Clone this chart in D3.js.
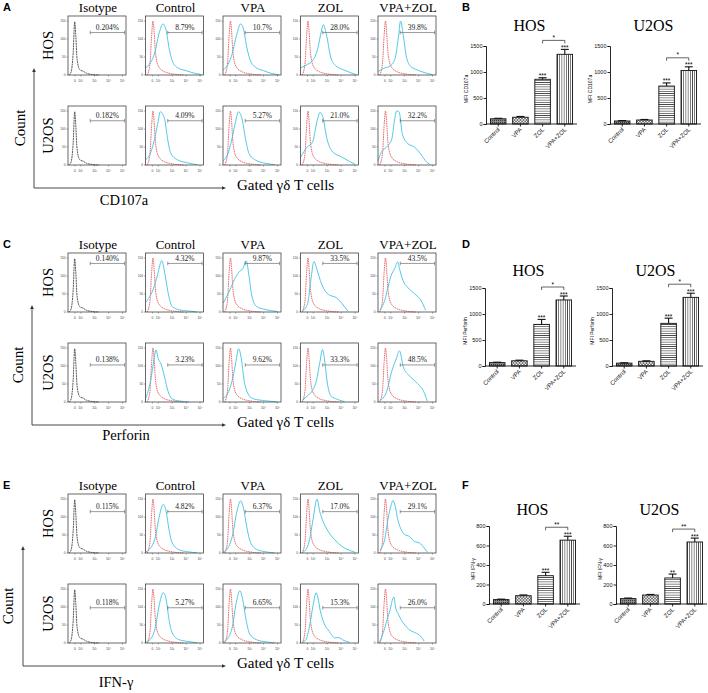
<!DOCTYPE html>
<html>
<head>
<meta charset="utf-8">
<script src="https://cdn.jsdelivr.net/npm/d3@7"></script>
<style>
body{margin:0;background:#fff;}
svg{display:block;font-family:"Liberation Serif","Times New Roman",serif;}
.sans{font-family:"Liberation Sans",Arial,sans-serif;}
</style>
</head>
<body>
<div id="chart-area"></div>
<script>
// ---------- data ----------
var columns=["Isotype","Control","VPA","ZOL","VPA+ZOL"];
var cellLines=["HOS","U2OS"];
var barGroups=["Control","VPA","ZOL","VPA+ZOL"];
var flowTickLabels=["0","10²","10³","10⁴","10⁵"];
var flowTickPos=[1.58,2,3,4,5];
var flowCountTicks=[0,50,100,150];

// isotype (black) and unstained reference (red) histograms, [log units, count]
var isotypeCurve=[[1.15,0],[1.3,8],[1.45,60],[1.56,148],[1.64,110],[1.73,45],[1.92,15],[2.2,10],[2.4,5],[2.9,1],[3.3,0]];
var refCurve=[[1.2,0],[1.4,30],[1.52,110],[1.62,150],[1.7,120],[1.78,70],[1.88,40],[2.08,20],[2.45,9],[2.9,4],[3.4,1],[3.8,0]];

// cyan histograms: Control, VPA, ZOL, VPA+ZOL
var cd107aCyanHOS=[
 [[1.1,20],[1.45,35],[1.75,62],[2.05,115],[2.35,142],[2.55,126],[2.8,70],[3.0,40],[3.4,20],[4.0,12],[4.6,5],[5.1,1]],
 [[1.1,15],[1.45,30],[1.75,60],[2.05,110],[2.35,142],[2.55,128],[2.8,75],[3.05,40],[3.4,22],[4.0,12],[4.6,4],[5.1,1]],
 [[1.1,20],[1.6,30],[1.95,40],[2.3,70],[2.6,125],[2.72,140],[2.93,115],[3.25,50],[3.6,26],[4.2,14],[4.7,6],[5.1,1]],
 [[1.1,10],[1.45,18],[1.95,25],[2.3,45],[2.55,105],[2.7,150],[2.9,110],[3.1,55],[3.4,25],[3.9,14],[4.4,7],[5.0,1]]
];
var cd107aCyanU2OS=[
 [[1.1,15],[1.4,30],[1.72,70],[1.96,116],[2.15,148],[2.44,130],[2.68,70],[2.9,32],[3.4,14],[4.1,6],[4.8,1]],
 [[1.1,12],[1.4,28],[1.72,72],[1.98,120],[2.2,148],[2.45,128],[2.7,72],[2.95,32],[3.4,14],[4.1,5],[4.8,1]],
 [[1.1,22],[1.56,50],[1.93,62],[2.29,125],[2.48,146],[2.65,138],[3.0,70],[3.38,37],[4.0,23],[4.6,10],[5.0,2]],
 [[1.1,12],[1.33,37],[1.7,50],[2.07,72],[2.27,125],[2.42,150],[2.52,150],[2.62,145],[2.82,88],[3.2,60],[3.7,50],[4.2,28],[4.55,9],[4.8,2]]
];
var perforinCyanHOS=[
 [[1.1,27],[1.62,62],[1.97,107],[2.15,135],[2.25,143],[2.35,132],[2.5,100],[2.75,45],[3.0,15],[3.5,6],[4.1,3],[4.8,0]],
 [[1.1,25],[1.5,55],[1.9,90],[2.25,112],[2.5,120],[2.75,142],[2.95,100],[3.15,45],[3.5,15],[4.0,8],[4.5,4],[5.0,1]],
 [[1.2,2],[1.59,23],[1.82,88],[2.05,140],[2.28,116],[2.5,88],[2.75,65],[3.2,46],[3.55,42],[3.9,31],[4.25,14],[4.5,2]],
 [[1.2,5],[1.56,32],[1.8,69],[2.03,102],[2.27,120],[2.5,139],[2.63,120],[2.87,88],[3.2,69],[3.7,51],[4.17,32],[4.5,5]]
];
var perforinCyanU2OS=[
 [[1.1,10],[1.45,60],[1.7,120],[1.83,145],[2.0,120],[2.2,105],[2.45,70],[2.7,30],[3.0,8],[3.5,3],[4.2,0]],
 [[1.1,10],[1.5,30],[1.8,70],[2.0,110],[2.2,148],[2.4,120],[2.6,60],[2.85,25],[3.2,10],[3.8,5],[4.5,2],[5.0,0]],
 [[1.2,4],[1.6,18],[1.85,27],[2.23,60],[2.48,112],[2.66,146],[2.8,120],[3.0,55],[3.25,18],[3.75,7],[4.25,1]],
 [[1.2,3],[1.69,28],[2.06,84],[2.41,122],[2.62,142],[2.92,95],[3.29,75],[3.9,52],[4.38,28],[4.62,3]]
];
var ifngCyanHOS=[
 [[1.1,3],[1.33,9],[1.8,46],[2.04,96],[2.36,135],[2.57,114],[2.77,65],[3.0,28],[3.5,9],[4.2,3],[4.8,0]],
 [[1.1,3],[1.4,12],[1.8,55],[2.05,110],[2.35,145],[2.55,125],[2.8,70],[3.05,30],[3.5,10],[4.2,3],[4.8,0]],
 [[1.2,2],[1.37,5],[1.73,37],[1.98,93],[2.27,150],[2.46,116],[2.7,88],[3.07,60],[3.54,37],[4.03,19],[4.5,9],[5.0,2]],
 [[1.2,8],[1.56,37],[1.79,93],[2.03,134],[2.15,146],[2.32,130],[2.5,93],[2.75,65],[3.0,51],[3.34,46],[3.7,32],[4.06,28],[4.4,14],[4.65,2]]
];
var ifngCyanU2OS=[
 [[1.1,3],[1.4,9],[1.8,46],[2.04,100],[2.36,140],[2.57,120],[2.77,65],[3.0,28],[3.5,9],[4.2,4],[4.8,0]],
 [[1.1,3],[1.4,12],[1.78,50],[2.0,105],[2.3,145],[2.5,120],[2.75,62],[3.0,25],[3.5,9],[4.2,3],[4.8,0]],
 [[1.2,2],[1.46,9],[1.73,46],[1.99,106],[2.2,140],[2.33,127],[2.5,90],[2.77,55],[3.16,32],[3.55,14],[3.8,15],[4.2,7],[4.6,2]],
 [[1.2,3],[1.54,38],[1.77,70],[1.95,92],[2.15,124],[2.22,128],[2.34,100],[2.57,78],[2.91,55],[3.37,36],[3.83,27],[4.17,18],[4.4,5]]
];

// gated percentages (Isotype, Control, VPA, ZOL, VPA+ZOL)
var cd107aPctHOS=["0.204%","8.79%","10.7%","28.0%","39.8%"];
var cd107aPctU2OS=["0.182%","4.09%","5.27%","21.0%","32.2%"];
var perforinPctHOS=["0.140%","4.32%","9.87%","33.5%","43.5%"];
var perforinPctU2OS=["0.138%","3.23%","9.62%","33.3%","48.5%"];
var ifngPctHOS=["0.115%","4.82%","6.37%","17.0%","29.1%"];
var ifngPctU2OS=["0.118%","5.27%","6.65%","15.3%","26.0%"];

// MFI bars (Control, VPA, ZOL, VPA+ZOL) and SEM
var cd107aHOS=[100,130,860,1340],  cd107aErrHOS=[10,15,30,95];
var cd107aU2OS=[58,77,730,1030],   cd107aErrU2OS=[8,10,60,70];
var perforinHOS=[65,100,800,1270], perforinErrHOS=[8,12,96,76];
var perforinU2OS=[55,90,820,1320], perforinErrU2OS=[8,10,100,80];
var ifngHOS=[45,85,290,655],       ifngErrHOS=[5,8,35,40];
var ifngU2OS=[55,92,267,636],      ifngErrU2OS=[6,6,40,40];

var starsHOS=["","","***","***"];
var starsIfngU2OS=["","","**","***"];
var mfiTicks1500=[0,500,1000,1500];
var mfiTicks800=[0,200,400,600,800];

// ---------- layout ----------
var svg=d3.select("#chart-area").append("svg").attr("width",708).attr("height",693);
var defs=svg.append("defs");

var pc=defs.append("pattern").attr("id","pCtrl").attr("patternUnits","userSpaceOnUse").attr("width",2).attr("height",2);
pc.append("rect").attr("width",2).attr("height",2).attr("fill","#8c8c8c");
pc.append("rect").attr("width",1).attr("height",1).attr("fill","#3a3a3a");
var pv=defs.append("pattern").attr("id","pVPA").attr("patternUnits","userSpaceOnUse").attr("width",3).attr("height",3);
pv.append("rect").attr("width",3).attr("height",3).attr("fill","#fff");
pv.append("circle").attr("cx",1.5).attr("cy",1.5).attr("r",1.05).attr("fill","none").attr("stroke","#222").attr("stroke-width",0.7);
var pz=defs.append("pattern").attr("id","pZOL").attr("patternUnits","userSpaceOnUse").attr("width",4).attr("height",2.2);
pz.append("rect").attr("width",4).attr("height",2.2).attr("fill","#fff");
pz.append("line").attr("x1",0).attr("x2",4).attr("y1",1.1).attr("y2",1.1).attr("stroke","#222").attr("stroke-width",0.7);
var pb=defs.append("pattern").attr("id","pCombo").attr("patternUnits","userSpaceOnUse").attr("width",2.2).attr("height",4);
pb.append("rect").attr("width",2.2).attr("height",4).attr("fill","#fff");
pb.append("line").attr("y1",0).attr("y2",4).attr("x1",1.1).attr("x2",1.1).attr("stroke","#222").attr("stroke-width",0.7);
var barFill=d3.scaleOrdinal().domain(barGroups).range(["url(#pCtrl)","url(#pVPA)","url(#pZOL)","url(#pCombo)"]);

var rows=[
 {y0:0,letter:"A",barLetter:"B",marker:"CD107a",markerX:124,markerY:205,arrowX:34,countX:20,gate:[118,123],
  cyan:[cd107aCyanHOS,cd107aCyanU2OS],pct:[cd107aPctHOS,cd107aPctU2OS],
  bars:[cd107aHOS,cd107aU2OS],errs:[cd107aErrHOS,cd107aErrU2OS],stars:[starsHOS,starsHOS],sig:["*","*"],
  yTitle:"MFI CD107a",yTicks:mfiTicks1500,yMax:1500,barTop:46,barBot:124,axisX:[486,610],titleY:31},
 {y0:237,letter:"C",barLetter:"D",marker:"Perforin",markerX:126,markerY:203,arrowX:32,countX:18,gate:[135,103],
  cyan:[perforinCyanHOS,perforinCyanU2OS],pct:[perforinPctHOS,perforinPctU2OS],
  bars:[perforinHOS,perforinU2OS],errs:[perforinErrHOS,perforinErrU2OS],stars:[starsHOS,starsHOS],sig:["*","*"],
  yTitle:"MFI Perforin",yTicks:mfiTicks1500,yMax:1500,barTop:288,barBot:366,axisX:[485,612],titleY:276},
 {y0:478,letter:"E",barLetter:"F",marker:"IFN-γ",markerX:116,markerY:209,arrowX:23,countX:8,gate:[115,98],
  cyan:[ifngCyanHOS,ifngCyanU2OS],pct:[ifngPctHOS,ifngPctU2OS],
  bars:[ifngHOS,ifngU2OS],errs:[ifngErrHOS,ifngErrU2OS],stars:[starsHOS,starsIfngU2OS],sig:["**","**"],
  yTitle:"MFI IFN-γ",yTicks:mfiTicks800,yMax:800,barTop:526,barBot:604,axisX:[489,616],titleY:515}
];

// flow histogram scales (one small panel)
var PW=58,PH=59;
var fx=d3.scaleLinear().domain([1.08,5.25]).range([0,PW]);
var fy=d3.scaleLinear().domain([0,164]).range([PH,0]);
var histLine=d3.line().x(function(d){return fx(d[0]);}).y(function(d){return fy(d[1]);}).curve(d3.curveMonotoneX);
var colX=d3.scalePoint().domain(columns).range([68,378]);
var rowY={HOS:16,U2OS:106};

function flowPanel(g,ci,curve,pctText,gateLevel){
  // ticks
  g.selectAll(".yt").data(flowCountTicks).enter().append("line")
   .attr("x1",-1.5).attr("x2",0).attr("y1",function(d){return fy(d);}).attr("y2",function(d){return fy(d);})
   .attr("stroke","#555").attr("stroke-width",0.5);
  g.selectAll(".ytl").data(flowCountTicks).enter().append("text").attr("class","sans")
   .attr("x",-2.5).attr("y",function(d){return fy(d)+1;}).attr("text-anchor","end")
   .style("font-size","3.2px").attr("fill","#444").text(function(d){return d;});
  g.selectAll(".xt").data(flowTickPos).enter().append("line")
   .attr("x1",function(d){return fx(d);}).attr("x2",function(d){return fx(d);}).attr("y1",PH).attr("y2",PH+1.5)
   .attr("stroke","#555").attr("stroke-width",0.5);
  g.selectAll(".xtl").data(flowTickPos).enter().append("text").attr("class","sans")
   .attr("x",function(d){return fx(d);}).attr("y",PH+6.5).attr("text-anchor","middle")
   .style("font-size","3.4px").attr("fill","#444").text(function(d,i){return flowTickLabels[i];});
  // curves
  if(ci===0){
    g.append("path").attr("d",histLine(isotypeCurve)).attr("fill","none").attr("stroke","#333")
     .attr("stroke-width",0.8).attr("stroke-dasharray","2,0.6");
  } else {
    g.append("path").attr("d",histLine(refCurve)).attr("fill","none").attr("stroke","#e0474c")
     .attr("stroke-width",0.8).attr("stroke-dasharray","1.6,0.7");
    g.append("path").attr("d",histLine(curve)).attr("fill","none").attr("stroke","#3ec3e2")
     .attr("stroke-width",0.9);
  }
  // box
  g.append("rect").attr("width",PW).attr("height",PH).attr("fill","none").attr("stroke","#444").attr("stroke-width",0.8);
  // gate
  var gx1=fx(2.68),gx2=fx(5.15),gy=fy(gateLevel);
  g.append("line").attr("x1",gx1).attr("x2",gx2).attr("y1",gy).attr("y2",gy).attr("stroke","#555").attr("stroke-width",0.6);
  [gx1,gx2].forEach(function(x){
    g.append("line").attr("x1",x).attr("x2",x).attr("y1",gy-1.8).attr("y2",gy+1.8).attr("stroke","#555").attr("stroke-width",0.6);
  });
  g.append("text").attr("x",(gx1+gx2)/2).attr("y",gy-2.5).attr("text-anchor","middle")
   .style("font-size","7.5px").attr("fill","#222").text(pctText);
}

function barChart(row,k){
  var ax=row.axisX[k],pw=91;
  var g=svg.append("g").attr("transform","translate("+ax+",0)");
  var x=d3.scaleBand().domain(barGroups).range([0,pw]).paddingInner(0.3).paddingOuter(0.2);
  var y=d3.scaleLinear().domain([0,row.yMax]).range([row.barBot,row.barTop]);
  var vals=row.bars[k],errs=row.errs[k];

  g.append("text").attr("x",pw/2-2).attr("y",row.titleY).attr("text-anchor","middle")
   .style("font-size","16px").text(cellLines[k]);

  // bars
  g.selectAll("rect.bar").data(barGroups).enter().append("rect").attr("class","bar")
   .attr("x",function(d){return x(d);}).attr("width",x.bandwidth())
   .attr("y",function(d,i){return y(vals[i]);})
   .attr("height",function(d,i){return y(0)-y(vals[i]);})
   .attr("fill",function(d){return barFill(d);}).attr("stroke","#111").attr("stroke-width",0.9);
  // error bars
  barGroups.forEach(function(d,i){
    var cx=x(d)+x.bandwidth()/2;
    g.append("line").attr("x1",cx).attr("x2",cx).attr("y1",y(vals[i])).attr("y2",y(vals[i]+errs[i]))
     .attr("stroke","#111").attr("stroke-width",1.1);
    g.append("line").attr("x1",cx-4).attr("x2",cx+4).attr("y1",y(vals[i]+errs[i])).attr("y2",y(vals[i]+errs[i]))
     .attr("stroke","#111").attr("stroke-width",1.1);
    if(row.stars[k][i]){
      g.append("text").attr("class","sans").attr("x",cx).attr("y",y(vals[i]+errs[i])+0.5).attr("text-anchor","middle")
       .style("font-size","6.5px").text(row.stars[k][i]);
    }
  });
  // significance bracket ZOL vs VPA+ZOL
  var top=d3.max(vals,function(v,i){return v+errs[i];});
  var by=y(top)-9;
  var bx1=x("ZOL")+x.bandwidth()/2,bx2=x("VPA+ZOL")+x.bandwidth()/2;
  g.append("path").attr("d","M"+bx1+","+(by+3)+"V"+by+"H"+bx2+"V"+(by+3))
   .attr("fill","none").attr("stroke","#222").attr("stroke-width",0.7);
  g.append("text").attr("class","sans").attr("x",(bx1+bx2)/2).attr("y",by-0.5).attr("text-anchor","middle")
   .style("font-size","6.5px").text(row.sig[k]);

  // axes
  var yAxis=d3.axisLeft(y).tickValues(row.yTicks).tickFormat(d3.format("d")).tickSize(2.5).tickPadding(1);
  var ya=g.append("g").call(yAxis);
  ya.selectAll("text").attr("class","sans").style("font-size","5.5px").attr("fill","#111");
  var xa=g.append("g").attr("transform","translate(0,"+row.barBot+")")
   .call(d3.axisBottom(x).tickSize(2.5).tickSizeOuter(0).tickFormat(""));
  xa.select(".domain").attr("d","M0,0H"+pw);
  [ya,xa].forEach(function(a){a.selectAll("path,line").attr("stroke","#111").attr("stroke-width",0.9);});
  g.selectAll("text.xl").data(barGroups).enter().append("text").attr("class","sans xl")
   .attr("transform",function(d){return "translate("+(x(d)+x.bandwidth()/2+2)+","+(row.barBot+6)+") rotate(-45)";})
   .attr("text-anchor","end").attr("fill","#111").style("font-size","6px").text(function(d){return d;});
  var off=row.yMax>=1000?-18:-14;
  g.append("text").attr("class","sans").attr("transform","translate("+off+","+((row.barTop+row.barBot)/2+4)+") rotate(-90)")
   .attr("text-anchor","middle").style("font-size","5px").text(row.yTitle);
}

rows.forEach(function(row){
  var y0=row.y0;
  svg.append("text").attr("class","sans").attr("x",3).attr("y",y0+11).style("font-size","11px").style("font-weight","bold").text(row.letter);
  svg.append("text").attr("class","sans").attr("x",462).attr("y",y0+11).style("font-size","11px").style("font-weight","bold").text(row.barLetter);

  // column headers
  svg.selectAll(null).data(columns).enter().append("text")
   .attr("x",function(d){return colX(d)+PW/2+1;}).attr("y",y0+12).attr("text-anchor","middle")
   .style("font-size","13px").text(function(d){return d;});

  cellLines.forEach(function(cl,k){
    svg.append("text").attr("transform","translate(48,"+(y0+rowY[cl]+PH/2)+") rotate(-90)")
     .attr("text-anchor","middle").attr("dominant-baseline","central").style("font-size","14.5px").text(cl);
    columns.forEach(function(c,ci){
      var g=svg.append("g").attr("transform","translate("+colX(c)+","+(y0+rowY[cl])+")");
      flowPanel(g,ci,ci>0?row.cyan[k][ci-1]:null,row.pct[k][ci],row.gate[k]);
    });
  });

  // count / marker arrows
  var ax=row.arrowX,ab=y0+188,at=y0+68,ar=226;
  svg.append("path").attr("d","M"+ax+","+ab+"V"+(at+4)+"M"+ax+","+ab+"H"+(ar-4)).attr("stroke","#333").attr("stroke-width",0.9).attr("fill","none");
  svg.append("path").attr("d","M"+(ax-1.8)+","+(at+4)+"L"+ax+","+at+"L"+(ax+1.8)+","+(at+4)+"Z").attr("fill","#333");
  svg.append("path").attr("d","M"+(ar-4)+","+(ab-1.8)+"L"+ar+","+ab+"L"+(ar-4)+","+(ab+1.8)+"Z").attr("fill","#333");
  svg.append("text").attr("transform","translate("+row.countX+","+(y0+128)+") rotate(-90)")
   .attr("text-anchor","middle").attr("dominant-baseline","central").style("font-size","15px").text("Count");
  svg.append("text").attr("x",row.markerX).attr("y",y0+row.markerY).attr("text-anchor","middle")
   .style("font-size","14.5px").text(row.marker);
  svg.append("text").attr("x",237).attr("y",y0+190).style("font-size","15px").text("Gated γδ T cells");

  barChart(row,0);
  barChart(row,1);
});
</script>
</body>
</html>
